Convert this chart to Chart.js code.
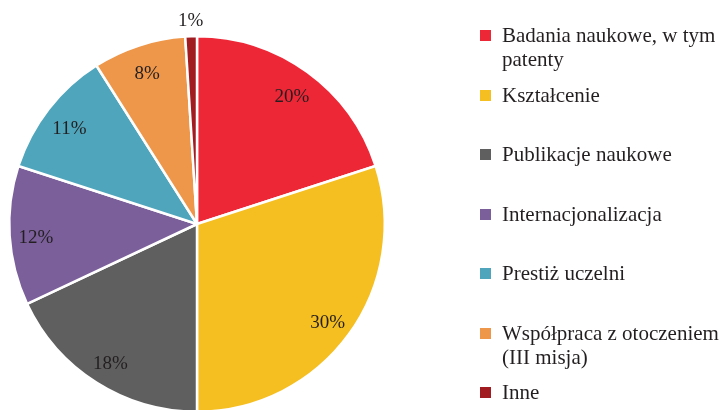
<!DOCTYPE html>
<html>
<head>
<meta charset="utf-8">
<script src="https://cdn.jsdelivr.net/npm/chart.js@4/dist/chart.umd.min.js"></script>
<style>
html,body{margin:0;padding:0;background:#fff;overflow:hidden;width:722px;height:410px;}
#wrap{position:absolute;left:0;top:0;width:394px;height:448px;}
#legend{position:absolute;left:0;top:0;width:722px;height:410px;pointer-events:none;}
.item{position:absolute;left:480px;font-family:"Liberation Serif","Times New Roman",serif;font-size:21px;line-height:24px;color:#231f20;white-space:nowrap;}
.sw{position:absolute;left:0;top:7px;width:11px;height:11px;}
.tx{position:absolute;left:22px;top:0;}
</style>
</head>
<body>
<div id="wrap"><canvas id="c"></canvas></div>
<div id="legend"></div>
<script>
const categories = ["Badania naukowe, w tym patenty","Kształcenie","Publikacje naukowe","Internacjonalizacja","Prestiż uczelni","Współpraca z otoczeniem (III misja)","Inne"];
const legendLines = [["Badania naukowe, w tym","patenty"],["Kształcenie"],["Publikacje naukowe"],["Internacjonalizacja"],["Prestiż uczelni"],["Współpraca z otoczeniem","(III misja)"],["Inne"]];
const values = [20,30,18,12,11,8,1];
const colors = ["#ee2737","#f5be21","#5f5f5f","#7b5f9b","#4fa5bc","#ee9649","#a01c21"];

const labelPlugin = {
  id:'pctLabels',
  afterDatasetsDraw(chart){
    const ctx = chart.ctx;
    const meta = chart.getDatasetMeta(0);
    ctx.save();
    ctx.font = '19px "Liberation Serif", "Times New Roman", serif';
    ctx.fillStyle = '#231f20';
    ctx.textAlign = 'center';
    ctx.textBaseline = 'middle';
    meta.data.forEach((arc,i)=>{
      const p = arc.getProps(['x','y','startAngle','endAngle','outerRadius'],true);
      const mid = (p.startAngle+p.endAngle)/2;
      const outside = values[i] < 3;
      const r = p.outerRadius*(outside ? 1.08 : 0.86);
      ctx.fillText(values[i]+'%', p.x+Math.cos(mid)*r, p.y+Math.sin(mid)*r + (outside ? 0 : 4));
    });
    ctx.restore();
  }
};

new Chart(document.getElementById('c'),{
  type:'pie',
  data:{labels:categories,datasets:[{data:values,backgroundColor:colors,borderColor:'#ffffff',borderWidth:2.5}]},
  options:{
    responsive:true,maintainAspectRatio:false,animation:false,
    layout:{padding:{left:8,right:8,top:35,bottom:35}},
    plugins:{legend:{display:false},tooltip:{enabled:false}}
  },
  plugins:[labelPlugin]
});

const leg = document.getElementById('legend');
const rowTop = 23, rowStep = 59.5;
legendLines.forEach((lines,i)=>{
  const d = document.createElement('div');
  d.className='item';
  d.style.top = (rowTop + i*rowStep)+'px';
  const s = document.createElement('div'); s.className='sw'; s.style.background=colors[i];
  const t = document.createElement('div'); t.className='tx'; t.innerHTML = lines.join('<br>');
  d.appendChild(s); d.appendChild(t); leg.appendChild(d);
});
</script>
</body>
</html>
